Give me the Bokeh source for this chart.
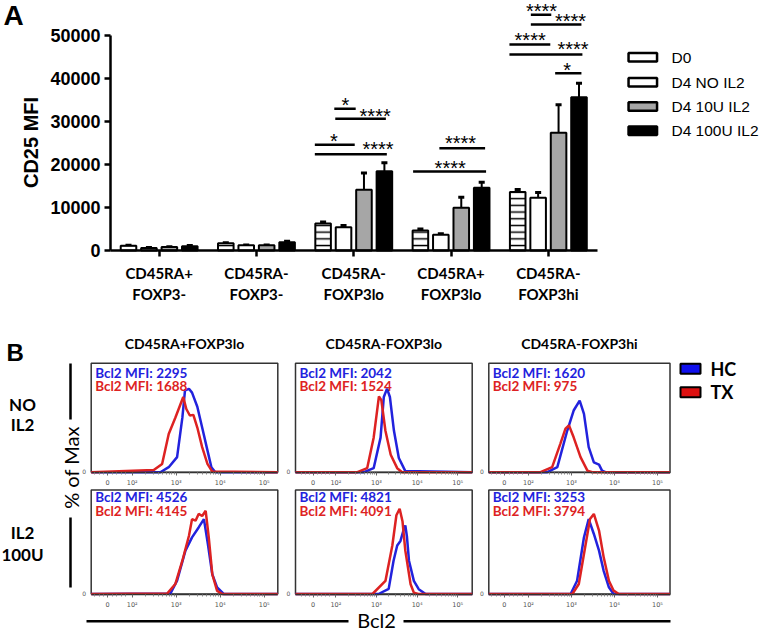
import numpy as np
from bokeh.plotting import figure
from bokeh.models import Range1d, LinearAxis, FixedTicker
from bokeh.core.properties import value
from bokeh.embed import file_html
from bokeh.resources import INLINE

# ---------------- Panel A data ----------------
groups = ["CD45RA+\nFOXP3-", "CD45RA-\nFOXP3-", "CD45RA-\nFOXP3lo", "CD45RA+\nFOXP3lo", "CD45RA-\nFOXP3hi"]
series = ["D0", "D4 NO IL2", "D4 10U IL2", "D4 100U IL2"]
series_fill = ["white", "white", "#a6a6a6", "black"]
d0 = [1100, 1700, 6300, 4650, 13600]
d0_err = [100, 100, 300, 350, 600]
no_il2 = [600, 1200, 5400, 3650, 12250]
no_il2_err = [80, 80, 400, 250, 1250]
u10 = [800, 1200, 14100, 9950, 27400]
u10_err = [100, 100, 3900, 2450, 6500]
u100 = [1000, 1900, 18450, 14600, 35650]
u100_err = [150, 250, 1950, 1300, 3250]
y_ticks = [0, 10000, 20000, 30000, 40000, 50000]

# significance brackets (category units, MFI)
br_x0 = [1.80, 1.81, 1.60, 1.60, 2.88, 2.61, 3.82, 3.82, 3.60, 3.60, 4.07]
br_x1 = [2.02, 2.33, 2.01, 2.34, 3.35, 3.36, 4.03, 4.34, 4.02, 4.35, 4.34]
br_y = [32950, 30630, 24580, 22400, 23790, 18370, 54810, 52560, 47910, 45580, 41230]
st_text = ["*", "****", "*", "****", "****", "****", "****", "****", "****", "****", "*"]
st_x = [1.915, 2.220, 1.795, 2.249, 3.097, 2.991, 3.930, 4.228, 3.813, 4.253, 4.194]
st_y = [34950, 32330, 26440, 24650, 25980, 20300, 56810, 54490, 50000, 47910, 43020]

# ---------------- Panel B data ----------------
col_titles = ["CD45RA+FOXP3lo", "CD45RA-FOXP3lo", "CD45RA-FOXP3hi"]
row_titles = [["NO", "IL2"], ["IL2", "100U"]]
hc_mfi = [[2295, 2042, 1620], [4526, 4821, 3253]]
tx_mfi = [[1688, 1524, 975], [4145, 4091, 3794]]
groups_b = ["HC", "TX"]
hist_tick_pos = [1.44, 2, 3, 4, 5]
hist_tick_lab = ["0", "10²", "10³", "10⁴", "10⁵"]

# curves: x in decades (10^x), y in % of panel height
r1c1_hc_x = [2.64, 2.83, 3.02, 3.14, 3.20, 3.29, 3.36, 3.48, 3.59, 3.71, 3.80, 3.89]
r1c1_hc_y = [0, 4.6, 13.8, 50, 75, 76.5, 73, 60, 41, 20, 4.6, 0]
r1c1_tx_x = [2.49, 2.68, 2.83, 2.98, 3.16, 3.23, 3.31, 3.39, 3.48, 3.59, 3.71, 3.82]
r1c1_tx_y = [2, 7.6, 35, 50, 69, 58, 52, 52.6, 41, 23, 7.6, 0.6]
r1c2_hc_x = [2.69, 2.93, 3.10, 3.18, 3.26, 3.33, 3.43, 3.55, 3.71]
r1c2_hc_y = [0, 3.7, 31.7, 69, 76.7, 69, 38, 13, 1]
r1c2_tx_x = [2.53, 2.77, 2.93, 3.06, 3.12, 3.22, 3.35, 3.51, 3.63]
r1c2_tx_y = [0, 3.7, 31.7, 69.6, 66, 38, 16, 3.7, 0]
r1c3_hc_x = [2.44, 2.67, 2.90, 3.05, 3.19, 3.29, 3.40, 3.52, 3.64, 3.71, 3.79]
r1c3_hc_y = [0, 4.6, 38, 56.6, 65.7, 53.5, 23, 9, 7, 1.5, 0]
r1c3_tx_x = [2.28, 2.55, 2.74, 2.86, 2.94, 3.05, 3.21, 3.37, 3.48]
r1c3_tx_y = [0, 4.6, 26, 40, 43, 32, 13.8, 1.5, 0]
r2c1_hc_x = [2.87, 3.02, 3.21, 3.36, 3.51, 3.63, 3.72, 3.82, 3.93, 4.08]
r2c1_hc_y = [0.6, 12.8, 41.7, 54.5, 64, 72, 48, 19, 6.4, 0]
r2c1_tx_x = [2.80, 2.98, 3.14, 3.29, 3.36, 3.44, 3.51, 3.59, 3.67, 3.74, 3.82, 3.93, 4.05]
r2c1_tx_y = [0.6, 9.6, 32, 56, 72, 70.5, 77, 75, 80, 54.5, 19, 3, 0]
r2c2_hc_x = [3.05, 3.30, 3.42, 3.51, 3.59, 3.67, 3.71, 3.75, 3.80, 3.92, 4.04, 4.21]
r2c2_hc_y = [0, 4.9, 32, 46.6, 51, 62, 66, 55, 32, 12.6, 4.6, 0]
r2c2_tx_x = [2.90, 3.22, 3.39, 3.49, 3.57, 3.64, 3.71, 3.84, 3.92, 4.03]
r2c2_tx_y = [0, 12.6, 46.6, 75.7, 82, 70, 41.7, 9.4, 1.3, 0]
r2c3_hc_x = [2.98, 3.13, 3.29, 3.40, 3.52, 3.64, 3.75, 3.87, 3.98]
r2c3_hc_y = [0, 12.8, 54.5, 72, 57.7, 41.7, 22, 6.4, 0]
r2c3_tx_x = [3.02, 3.17, 3.33, 3.43, 3.52, 3.64, 3.75, 3.87, 3.98, 4.10]
r2c3_tx_y = [0, 9.6, 48, 72, 77, 61, 35, 12.8, 3.2, 0]

curves = {
    (0, 0): (r1c1_hc_x, r1c1_hc_y, r1c1_tx_x, r1c1_tx_y),
    (0, 1): (r1c2_hc_x, r1c2_hc_y, r1c2_tx_x, r1c2_tx_y),
    (0, 2): (r1c3_hc_x, r1c3_hc_y, r1c3_tx_x, r1c3_tx_y),
    (1, 0): (r2c1_hc_x, r2c1_hc_y, r2c1_tx_x, r2c1_tx_y),
    (1, 1): (r2c2_hc_x, r2c2_hc_y, r2c2_tx_x, r2c2_tx_y),
    (1, 2): (r2c3_hc_x, r2c3_hc_y, r2c3_tx_x, r2c3_tx_y),
}

# ---------------- layout (page pixels) ----------------
W, H = 762, 633
X0, Y0 = 0, 0


def xr(v_ref, px_ref, k):
    return Range1d(v_ref + (X0 - px_ref) / k, v_ref + (X0 + W - px_ref) / k)


def yr(v_ref, py_ref, k):
    return Range1d(v_ref - (Y0 + H - py_ref) / k, v_ref + (py_ref - Y0) / k)


p = figure(width=W, height=H, x_range=Range1d(X0, X0 + W), y_range=Range1d(Y0 + H, Y0),
           x_axis_type=None, y_axis_type=None, toolbar_location=None, output_backend="svg",
           min_border=0, outline_line_color=None, background_fill_color="white")

p.extra_x_ranges = {"ax": xr(0, 158.65, 97.3)}
p.extra_y_ranges = {"ay": yr(0, 250, 0.0043)}

col_left = [90.7, 295.0, 488.3]
col_right = [277.3, 471.7, 669.5]
col_ref = [175.7, 376.0, 571.0]   # pixel of 10^3
col_k = [44.0, 40.6, 43.0]        # pixels per decade
row_top = [362.7, 489.5]
row_bot = [471.7, 593.5]
for c in range(3):
    p.extra_x_ranges[f"hx{c}"] = xr(3, col_ref[c], col_k[c])
for r in range(2):
    p.extra_y_ranges[f"hy{r}"] = yr(0, row_bot[r], (row_bot[r] - row_top[r]) / 100.0)

BLUE, RED = "#2222dd", "#dd2222"
SANS = "Liberation Sans"
CAL = "Lato"

# ---------------- Panel A ----------------
xs = np.arange(len(groups))
offsets = [-0.315, -0.105, 0.105, 0.315]
bar_w = 0.16
vals = [d0, no_il2, u10, u100]
errs = [d0_err, no_il2_err, u10_err, u100_err]
hatch = [dict(hatch_pattern="horizontal_line", hatch_color="black", hatch_scale=6.7, hatch_weight=1.5),
         {}, {}, {}]
for v, e, off, fc, hs in zip(vals, errs, offsets, series_fill, hatch):
    x = xs + off
    v = np.array(v, float)
    e = np.array(e, float)
    p.segment(x0=x, y0=v, x1=x, y1=v + e, line_width=2, line_color="black",
              x_range_name="ax", y_range_name="ay")
    p.segment(x0=x - 0.031, y0=v + e, x1=x + 0.031, y1=v + e, line_width=3, line_color="black",
              x_range_name="ax", y_range_name="ay")
    p.vbar(x=x, top=v, bottom=0, width=bar_w, fill_color=fc, line_color="black", line_width=2,
           x_range_name="ax", y_range_name="ay", **hs)

p.segment(x0=br_x0, y0=br_y, x1=br_x1, y1=br_y, line_width=2.5, line_color="black",
          x_range_name="ax", y_range_name="ay")
p.text(x=st_x, y=st_y, text=st_text, x_range_name="ax", y_range_name="ay",
       text_font=value(SANS), text_font_size="20px", text_align="center",
       text_baseline="middle", y_offset=4.5, text_color="black")

yax = LinearAxis(x_range_name="ax", y_range_name="ay", fixed_location=-0.5, bounds=(0, 50000),
                 ticker=FixedTicker(ticks=y_ticks),
                 major_label_overrides={t: str(t) for t in y_ticks},
                 axis_line_width=2.5, major_tick_line_width=2.5, major_tick_out=6, major_tick_in=0,
                 minor_tick_out=0, minor_tick_in=0,
                 major_label_text_font=SANS, major_label_text_font_size="18px",
                 major_label_text_font_style="bold", major_label_text_color="black",
                 major_label_standoff=4)
p.add_layout(yax, "left")
xax = LinearAxis(x_range_name="ax", y_range_name="ay", fixed_location=0, bounds=(-0.5, 4.5),
                 ticker=FixedTicker(ticks=list(range(len(groups)))),
                 major_label_overrides={i: g for i, g in enumerate(groups)},
                 axis_line_width=2.5, major_tick_line_width=2.5, major_tick_out=6, major_tick_in=0,
                 minor_tick_out=0, minor_tick_in=0,
                 major_label_text_font=CAL, major_label_text_font_size="15px",
                 major_label_text_font_style="bold", major_label_text_color="black",
                 major_label_standoff=7)
p.add_layout(xax, "below")

# legend of panel A (page pixel layout)
legA_y = [56.7, 81.7, 106.0, 130.3]
p.rect(x=[642.3] * 4, y=legA_y, width=28.5, height=8.5, fill_color=series_fill,
       line_color="black", line_width=2.5)
p.text(x=[671] * 4, y=legA_y, text=series, text_font=value(SANS), text_font_size="15.5px",
       text_baseline="middle", text_color="black")

# text labels (page pixel coordinates)
p.text(x=[3], y=[15], text=["A"], text_font=value(SANS), text_font_size="28px",
       text_font_style="bold", text_baseline="middle")
p.text(x=[30], y=[142], text=["CD25 MFI"], text_font=value(SANS), text_font_size="20px",
       text_font_style="bold", angle=np.pi / 2, text_align="center", text_baseline="middle")

# ---------------- Panel B ----------------
p.text(x=[6], y=[352], text=["B"], text_font=value(SANS), text_font_size="24px",
       text_font_style="bold", text_baseline="middle")
for c in range(3):
    cx = (col_left[c] + col_right[c]) / 2
    p.text(x=[cx], y=[343], text=[col_titles[c]], text_font=value(CAL), text_font_size="14px",
           text_font_style="bold", text_align="center", text_baseline="middle")

row_label_y = [[404, 424], [532, 554]]
for r in range(2):
    p.text(x=[22, 22], y=row_label_y[r], text=row_titles[r], text_font=value(CAL),
           text_font_size="17px", text_font_style="bold", text_align="center",
           text_baseline="middle")

p.text(x=[70], y=[467], text=["% of Max"], text_font=value(CAL), text_font_size="20px",
       angle=np.pi / 2, text_align="center", text_baseline="middle")
p.segment(x0=[70, 70], y0=[363, 517], x1=[70, 70], y1=[419, 587], line_width=2.5,
          line_color="black")
p.text(x=[376], y=[619], text=["Bcl2"], text_font=value(CAL), text_font_size="20px",
       text_align="center", text_baseline="middle")
p.segment(x0=[86, 403], y0=[620.7, 620.7], x1=[348, 670], y1=[620.7, 620.7], line_width=2.5,
          line_color="black")

# boxes
bl, br_, bt, bb = [], [], [], []
for r in range(2):
    for c in range(3):
        bl.append(col_left[c]); br_.append(col_right[c]); bt.append(row_top[r]); bb.append(row_bot[r])
p.quad(left=bl, right=br_, top=bt, bottom=bb, fill_color=None, line_color="#333333",
       line_width=1.5)

minor = []
for m in [2, 3, 4]:
    for k in range(2, 10):
        minor.append(m + np.log10(k))
minor += [1.15, 1.25, 1.35, 1.55, 1.65, 1.75, 1.85]

for r in range(2):
    for c in range(3):
        lo = 3 + (col_left[c] - col_ref[c]) / col_k[c]
        hi = 3 + (col_right[c] - col_ref[c]) / col_k[c]
        hx, hy, tx, ty = curves[(r, c)]
        p.line(x=[lo] + hx + [hi], y=[0] + hy + [0], line_color=BLUE, line_width=2.5,
               x_range_name=f"hx{c}", y_range_name=f"hy{r}")
        p.line(x=[lo] + tx + [hi], y=[0] + ty + [0], line_color=RED, line_width=2.5,
               x_range_name=f"hx{c}", y_range_name=f"hy{r}")
        ax = LinearAxis(x_range_name=f"hx{c}", y_range_name=f"hy{r}", fixed_location=0,
                        bounds=(lo, hi),
                        ticker=FixedTicker(ticks=hist_tick_pos, minor_ticks=minor),
                        major_label_overrides=dict(zip(hist_tick_pos, hist_tick_lab)),
                        axis_line_color="#333333", axis_line_width=1.5,
                        major_tick_out=3, major_tick_in=0, minor_tick_out=2, minor_tick_in=0,
                        major_tick_line_color="#666666", minor_tick_line_color="#888888",
                        major_label_text_font="DejaVu Sans", major_label_text_font_size="6.5px",
                        major_label_text_color="#555555", major_label_standoff=4)
        p.add_layout(ax, "below")
        top_y = row_top[r]
        dy = [9.6, 22.3] if r == 0 else [6.5, 21.0]
        p.text(x=[col_left[c] + 4], y=[top_y + dy[0]], text=[f"Bcl2 MFI: {hc_mfi[r][c]}"],
               text_font=value(CAL), text_font_size="13.5px", text_font_style="bold",
               text_color=BLUE, text_baseline="middle")
        p.text(x=[col_left[c] + 4], y=[top_y + dy[1]], text=[f"Bcl2 MFI: {tx_mfi[r][c]}"],
               text_font=value(CAL), text_font_size="13.5px", text_font_style="bold",
               text_color=RED, text_baseline="middle")
        p.text(x=[col_left[c] - 7], y=[row_bot[r] - 1], text=["0"], text_font=value("DejaVu Sans"),
               text_font_size="6px", text_color="#555555", text_align="center",
               text_baseline="middle")

# legend of panel B (page pixel layout)
legB_y = [368.3, 391.7]
p.rect(x=[690, 690], y=legB_y, width=20, height=10, fill_color=["#1010ee", "#dd1010"],
       line_color="black", line_width=2)
p.text(x=[710, 710], y=legB_y, text=groups_b, text_font=value(CAL), text_font_size="18px",
       text_font_style="bold", text_baseline="middle", text_color="black")

open("out.html", "w").write(file_html(p, INLINE))
